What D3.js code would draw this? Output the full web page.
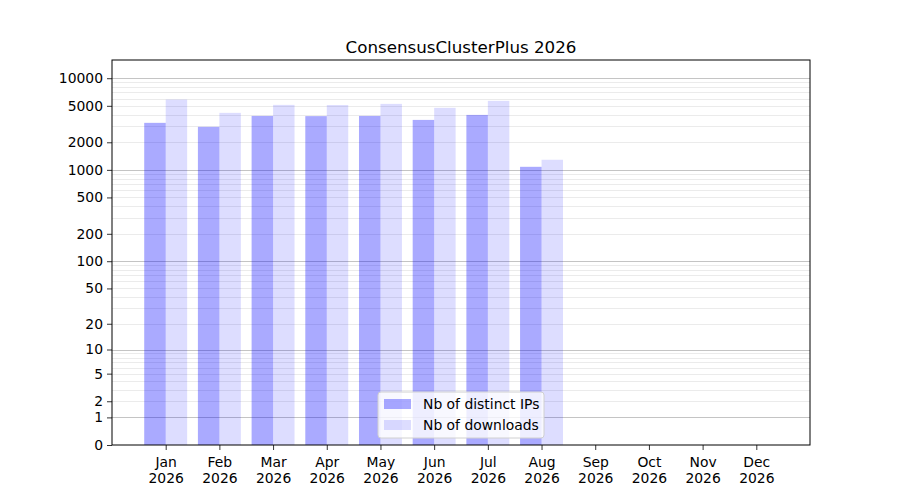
<!DOCTYPE html>
<html>
<head>
<meta charset="utf-8">
<script src="https://cdn.jsdelivr.net/npm/d3@7"></script>
<style>
  body { margin: 0; background: #fff; }
  svg text { font-family: "DejaVu Sans", sans-serif; fill: #000; }
</style>
</head>
<body>
<svg id="chart" width="900" height="500"></svg>
<script>
// chart data
var months = ["Jan", "Feb", "Mar", "Apr", "May", "Jun", "Jul", "Aug", "Sep", "Oct", "Nov", "Dec"];
var year = "2026";
var distinctIPs = [3260, 2950, 3880, 3860, 3880, 3510, 3980, 1080, 0, 0, 0, 0];
var downloads = [5850, 4190, 5120, 5100, 5250, 4750, 5660, 1290, 0, 0, 0, 0];
var yTickValues = [0, 1, 2, 5, 10, 20, 50, 100, 200, 500, 1000, 2000, 5000, 10000];
var majorGrid = [1, 10, 100, 1000, 10000];
var seriesNames = ["Nb of distinct IPs", "Nb of downloads"];

var margin = { left: 112, right: 90, top: 60, bottom: 55 };
var W = 900, H = 500;
var svg = d3.select("#chart");

var x = d3.scaleLinear()
  .domain([-1, 12])
  .range([margin.left, W - margin.right]);

var y = d3.scaleSymlog()
  .constant(1)
  .domain([0, 15800])
  .range([H - margin.bottom, margin.top]);

var barW = (x(1) - x(0)) * 0.4;

// minor grid: 2..9 times each decade
var minorGrid = [];
majorGrid.forEach(function(d) {
  for (var k = 2; k <= 9; k++) {
    if (d * k < y.domain()[1]) minorGrid.push(d * k);
  }
});

var grid = svg.append("g");
grid.selectAll("line.minor")
  .data(minorGrid)
  .enter().append("line")
  .attr("class", "minor")
  .attr("x1", x.range()[0]).attr("x2", x.range()[1])
  .attr("y1", function(d) { return Math.round(y(d)) + 0.5; })
  .attr("y2", function(d) { return Math.round(y(d)) + 0.5; })
  .attr("stroke", "#ebebeb")
  .attr("stroke-width", 1);

grid.selectAll("line.major")
  .data(majorGrid)
  .enter().append("line")
  .attr("class", "major")
  .attr("x1", x.range()[0]).attr("x2", x.range()[1])
  .attr("y1", function(d) { return Math.round(y(d)) + 0.5; })
  .attr("y2", function(d) { return Math.round(y(d)) + 0.5; })
  .attr("stroke", "#c4c4c4")
  .attr("stroke-width", 1);

// bars
var bars = svg.append("g");
bars.selectAll("rect.ips")
  .data(distinctIPs)
  .enter().append("rect")
  .attr("class", "ips")
  .attr("x", function(d, i) { return x(i) - barW; })
  .attr("y", function(d) { return y(d); })
  .attr("width", barW)
  .attr("height", function(d) { return y(0) - y(d); })
  .attr("fill", "#0000ff")
  .attr("fill-opacity", 0.333);

bars.selectAll("rect.dl")
  .data(downloads)
  .enter().append("rect")
  .attr("class", "dl")
  .attr("x", function(d, i) { return x(i); })
  .attr("y", function(d) { return y(d); })
  .attr("width", barW)
  .attr("height", function(d) { return y(0) - y(d); })
  .attr("fill", "#0000ff")
  .attr("fill-opacity", 0.133);

// axes
var yAxis = d3.axisLeft(y)
  .tickValues(yTickValues)
  .tickFormat(d3.format("d"))
  .tickSize(5)
  .tickPadding(4);

var gy = svg.append("g")
  .attr("transform", "translate(" + margin.left + ",0)")
  .call(yAxis);
gy.select(".domain").remove();
gy.selectAll("text").style("font-size", "13.9px");

var xAxis = d3.axisBottom(x)
  .tickValues(d3.range(months.length))
  .tickFormat("")
  .tickSize(5);

var gx = svg.append("g")
  .attr("transform", "translate(0," + y(0) + ")")
  .call(xAxis);
gx.select(".domain").remove();

var lbl = gx.selectAll(".tick").append("text")
  .attr("text-anchor", "middle")
  .style("font-size", "13.9px");
lbl.append("tspan").attr("x", 0).attr("y", 22).text(function(d) { return months[d]; });
lbl.append("tspan").attr("x", 0).attr("y", 38).text(year);

svg.selectAll(".tick line").attr("stroke", "#000").attr("stroke-width", 0.8);

// frame
svg.append("rect")
  .attr("x", x.range()[0]).attr("y", y.range()[1])
  .attr("width", x.range()[1] - x.range()[0])
  .attr("height", y.range()[0] - y.range()[1])
  .attr("fill", "none")
  .attr("stroke", "#000")
  .attr("stroke-width", 1);

// title
svg.append("text")
  .attr("x", (x.range()[0] + x.range()[1]) / 2)
  .attr("y", 52.5)
  .attr("text-anchor", "middle")
  .style("font-size", "16.7px")
  .text("ConsensusClusterPlus " + year);

// legend
var legW = 166, legH = 46;
var legX = (x.range()[0] + x.range()[1]) / 2 - legW / 2;
var legY = y(0) - 7 - legH;
var leg = svg.append("g").attr("transform", "translate(" + legX + "," + legY + ")");
leg.append("rect")
  .attr("width", legW).attr("height", legH)
  .attr("rx", 3)
  .attr("fill", "#fff").attr("fill-opacity", 0.8)
  .attr("stroke", "#d0d0d0");
var opac = [0.333, 0.133];
seriesNames.forEach(function(name, i) {
  var row = leg.append("g").attr("transform", "translate(0," + (i * 21) + ")");
  row.append("rect")
    .attr("x", 6).attr("y", 7)
    .attr("width", 27).attr("height", 10)
    .attr("fill", "#0000ff").attr("fill-opacity", opac[i]);
  row.append("text")
    .attr("x", 45).attr("y", 17)
    .style("font-size", "13.9px")
    .text(name);
});
</script>
</body>
</html>
